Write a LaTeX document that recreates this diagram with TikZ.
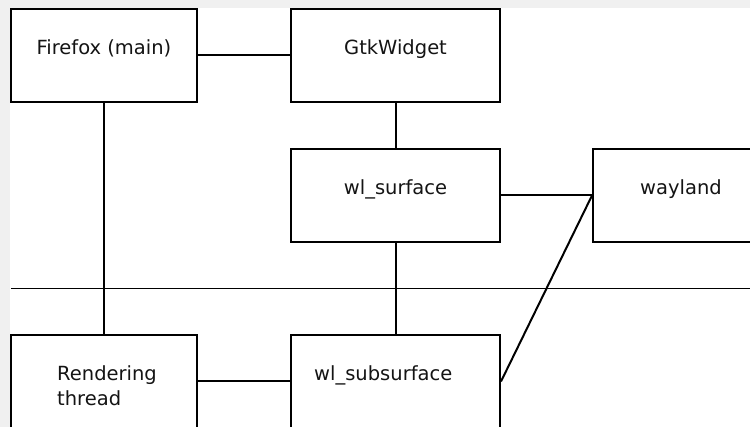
\documentclass[tikz,border=0pt]{standalone}
\usepackage{fontspec}
\setmainfont{DejaVu Sans}
\usetikzlibrary{positioning,calc}
\definecolor{WlBack}{RGB}{240,240,240}
\definecolor{WlInk}{RGB}{20,20,20}
\tikzset{
  wl/box/.style={
    draw=black,
    line width=2pt,
    fill=white,
    minimum height=93pt,
    inner sep=0pt
  },
  wl/narrow/.style={wl/box, minimum width=186pt},
  wl/wide/.style={wl/box, minimum width=209pt},
  wl/label/.style={font=\fontsize{19.5}{25}\selectfont, text=WlInk, inner sep=0pt, anchor=base},
  wl/link/.style={line width=2pt, draw=black},
  wl/rule/.style={line width=1pt, draw=black}
}

\begin{document}
\begin{tikzpicture}[x=1pt,y=-1pt]
  % page and canvas
  \clip (0,0) rectangle (750,427);
  \fill[WlBack] (0,0) rectangle (750,427);
  \fill[white] (10,8) rectangle (750,427);

  % top row
  \node[wl/narrow] (ff) at (104,55.5) {};
  \node[wl/wide] (gtk) at (395.5,55.5) {};
  % compositor side
  \node[wl/wide] (surf) at (395.5,195.5) {};
  \node[wl/box, minimum width=176pt] (way) at (681,195.5) {};
  % render thread side
  \node[wl/narrow] (rt) at (104,381.5) {};
  \node[wl/wide] (sub) at (395.5,381.5) {};

  \node[wl/label] (fflbl) at ([yshift=-47pt]ff.north) {Firefox (main)};
  \node[wl/label] (gtklbl) at ([yshift=-47pt]gtk.north) {GtkWidget};
  \node[wl/label] (surflbl) at ([yshift=-47pt]surf.north) {wl\_surface};
  \node[wl/label] (waylbl) at ([yshift=-47pt]way.north) {wayland};
  % base of a two-line node sits on its last line
  \node[wl/label, anchor=base west, align=left] (rtlbl) at ([xshift=47pt,yshift=-72pt]rt.north west) {Rendering\\thread};
  \node[wl/label, anchor=base west] (sublbl) at ([xshift=24pt,yshift=-47pt]sub.north west) {wl\_subsurface};

  % thread boundary
  \coordinate (sepL) at (11,289);
  \coordinate (sepR) at (750,289);
  \draw[wl/rule] (sepL) -- (sepR);

  \draw[wl/link] (ff) -- (gtk);
  \draw[wl/link] (ff) -- (rt);
  \draw[wl/link] (gtk) -- (surf);
  \draw[wl/link] (surf) -- (way.west);
  \draw[wl/link] (surf) -- (sub);
  \draw[wl/link] (sub.east) -- (way.west);
  \draw[wl/link] (rt) -- (sub);
\end{tikzpicture}
\end{document}
